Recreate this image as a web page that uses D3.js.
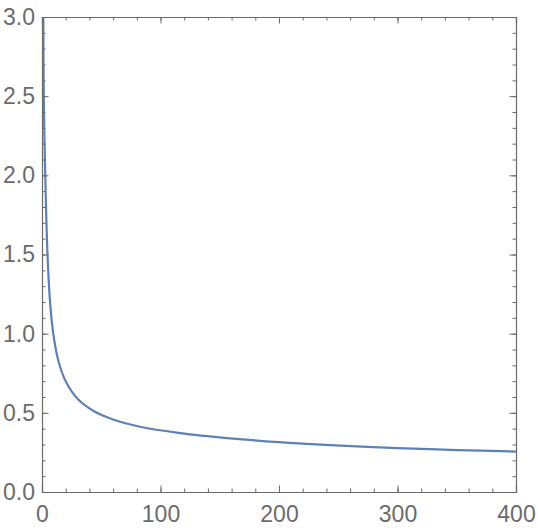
<!DOCTYPE html>
<html>
<head>
<meta charset="utf-8">
<script src="https://cdn.jsdelivr.net/npm/d3@7"></script>
<style>
  html, body { margin: 0; padding: 0; background: #fff; }
  svg { display: block; }
</style>
</head>
<body>
<svg id="chart"></svg>
<script>
// values
let xValues = [0.8, 1.1, 1.5, 2.5, 4.5, 6.7, 9.5, 13.8, 20.3, 30.6, 44.7, 60, 82.7, 116.5, 158.6, 200, 243, 300, 350, 400];
let yValues = [3.4, 3.0, 2.5, 2.08, 1.53, 1.21, 1.0, 0.829, 0.694, 0.584, 0.507, 0.458, 0.412, 0.372, 0.339, 0.315, 0.296, 0.277, 0.265, 0.255];
let xTicks = [0, 100, 200, 300, 400];
let yTicks = [0.0, 0.5, 1.0, 1.5, 2.0, 2.5, 3.0];
let xMinor = d3.range(0, 401, 20);
let yMinor = d3.range(0, 31, 1).map(d => d / 10);

let width = 538, height = 531;
let margin = {top: 17, right: 22, bottom: 39, left: 42};
let bodyWidth = width - margin.left - margin.right;
let bodyHeight = height - margin.top - margin.bottom;

let svg = d3.select("#chart")
    .attr("width", width)
    .attr("height", height);

let xScale = d3.scaleLinear().domain([0, 400]).range([0, bodyWidth]);
let yScale = d3.scaleLinear().domain([0, 3]).range([bodyHeight, 0]);

let body = svg.append("g")
    .attr("transform", `translate(${margin.left},${margin.top})`);

body.append("clipPath").attr("id", "clip")
    .append("rect").attr("width", bodyWidth).attr("height", bodyHeight);

let points = xValues.map((x, i) => ({x: x, y: yValues[i]}));
let line = d3.line()
    .x(d => xScale(d.x))
    .y(d => yScale(d.y))
    .curve(d3.curveCatmullRom.alpha(0.5));

body.append("path")
    .datum(points)
    .attr("clip-path", "url(#clip)")
    .attr("fill", "none")
    .attr("stroke", "#5e81b5")
    .attr("stroke-width", 2.2)
    .attr("d", line);

let frameColor = "#6a6a6a";
function styleAxis(g, labels) {
    g.selectAll(".domain").attr("stroke", frameColor).attr("stroke-width", 1.2);
    g.selectAll(".tick line").attr("stroke", frameColor);
    g.selectAll("text")
        .attr("fill", "#6b6b6b")
        .style("font-family", "'Liberation Sans', Arial, sans-serif")
        .style("font-size", "23px");
    if (!labels) g.selectAll("text").remove();
}
function minor(g) {
    g.selectAll(".domain").remove();
    g.selectAll(".tick line").attr("stroke", frameColor);
    g.selectAll("text").remove();
}

// minor ticks on all four sides
body.append("g").attr("transform", `translate(0,${bodyHeight})`)
    .call(d3.axisBottom(xScale).tickValues(xMinor).tickSize(-3.5).tickFormat("")).call(minor);
body.append("g")
    .call(d3.axisTop(xScale).tickValues(xMinor).tickSize(-3.5).tickFormat("")).call(minor);
body.append("g")
    .call(d3.axisLeft(yScale).tickValues(yMinor).tickSize(-3.5).tickFormat("")).call(minor);
body.append("g").attr("transform", `translate(${bodyWidth},0)`)
    .call(d3.axisRight(yScale).tickValues(yMinor).tickSize(-3.5).tickFormat("")).call(minor);

// major ticks
body.append("g").attr("transform", `translate(0,${bodyHeight})`)
    .call(d3.axisBottom(xScale).tickValues(xTicks).tickSize(-6.5).tickPadding(14).tickFormat(d3.format("d")))
    .call(g => styleAxis(g, true));
body.append("g")
    .call(d3.axisTop(xScale).tickValues(xTicks).tickSize(-6.5))
    .call(g => styleAxis(g, false));
body.append("g")
    .call(d3.axisLeft(yScale).tickValues(yTicks).tickSize(-6.5).tickPadding(7).tickFormat(d3.format(".1f")))
    .call(g => styleAxis(g, true));
body.append("g").attr("transform", `translate(${bodyWidth},0)`)
    .call(d3.axisRight(yScale).tickValues(yTicks).tickSize(-6.5))
    .call(g => styleAxis(g, false));
</script>
</body>
</html>
